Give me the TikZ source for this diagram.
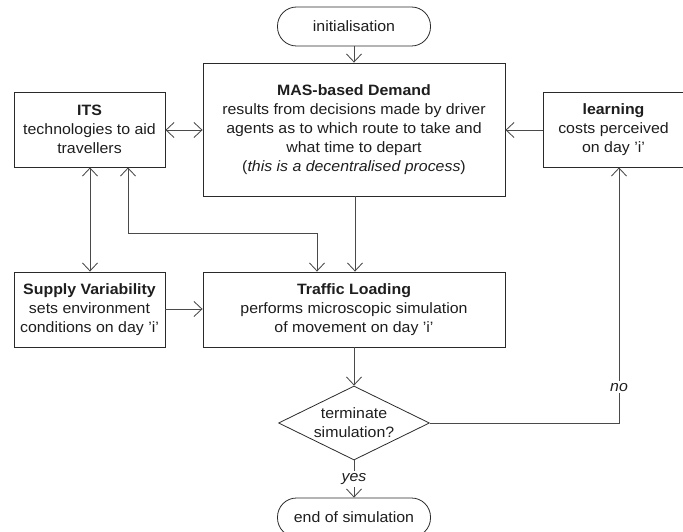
\documentclass[tikz,border=0pt]{standalone}
\usepackage{fontspec}
\setmainfont{Liberation Sans}[FakeStretch=1.06]
\usetikzlibrary{arrows.meta,shapes.geometric,positioning}
\definecolor{inkline}{HTML}{4A4A4A}
\definecolor{inkbox}{HTML}{2A2A2A}
\definecolor{inktext}{HTML}{1E1E1E}
% straight apostrophe
\newcommand\sq{\char"27\relax}
\tikzset{
  x=1pt, y=-1pt,
  every node/.style={text=inktext, font=\fontsize{15}{19}\selectfont},
  procbox/.style={draw=inkbox, line width=0.85pt, rectangle, align=center, inner sep=0pt},
  termbox/.style={draw=inkbox, line width=0.8pt, rectangle, rounded corners=19pt, align=center, inner sep=0pt,
    minimum width=153pt, minimum height=39pt},
  decbox/.style={draw=inkbox, line width=0.8pt, diamond, align=center, inner sep=0pt, aspect=2.04,
    minimum width=151pt, minimum height=74pt},
  link/.style={draw=inkline, line width=0.85pt, -{Straight Barb[length=8pt,width=15pt]}},
  bilink/.style={draw=inkline, line width=0.85pt, {Straight Barb[length=8pt,width=15pt]}-{Straight Barb[length=8pt,width=15pt]}},
  lbl/.style={fill=white, inner sep=2pt, font=\fontsize{15}{19}\selectfont\itshape}
}
\begin{document}
\begin{tikzpicture}
\useasboundingbox (0,0) rectangle (683,532);
\begin{scope}
\clip (0,0) rectangle (683,532);

% terminators
\node[termbox] (init) at (354,26.5) {initialisation};
\node[termbox] (fin) at (354,517.5) {end of simulation};

% process boxes
\node[procbox, minimum width=302pt, minimum height=133pt] (mas) at (354,129.5)
  {\textbf{MAS-based Demand}\\results from decisions made by driver\\agents as to which route to take and\\what time to depart\\(\textit{this is a decentralised process})};
\node[procbox, minimum width=151pt, minimum height=75pt] (its) at (89.5,129.5)
  {\textbf{ITS}\\technologies to aid\\travellers};
\node[procbox, minimum width=141pt, minimum height=75pt] (learn) at (613.5,129.5)
  {\textbf{learning}\\costs perceived\\on day \sq i\sq};
\node[procbox, minimum width=151pt, minimum height=75pt] (supply) at (89.5,309.5)
  {\textbf{Supply Variability}\\sets environment\\conditions on day \sq i\sq};
\node[procbox, minimum width=302pt, minimum height=75pt] (load) at (354,309.5)
  {\textbf{Traffic Loading}\\performs microscopic simulation\\of movement on day \sq i\sq};

% decision
\node[decbox] (term) at (354,423) {terminate\\simulation?};

% helper points
\coordinate (elbowA) at (317,233);
\coordinate (elbowB) at (128,233);
\coordinate (noturn) at (619,423);

% connectors
\draw[link] (init) -- (mas);
\draw[bilink] (its.east |- 0,130) -- (mas.west |- 0,130);
\draw[link] (learn.west |- 0,130) -- (mas.east |- 0,130);
\draw[bilink] (its.south -| 90,0) -- (supply.north -| 90,0);
\draw[link] (supply.east |- 0,309) -- (load.west |- 0,309);
\draw[link] (mas.south -| 355,0) -- (load.north -| 355,0);
\draw[bilink] (its.south -| elbowB) -- (elbowB) -- (elbowA) -- (load.north -| elbowA);
\draw[link] (load) -- (term);
\draw[link] (term.east) -- (noturn) -- node[lbl, pos=0.14] {no} (learn.south -| noturn);
\draw[link] (term.south) -- node[lbl, pos=0.5] {yes} (fin.north);
\end{scope}
\end{tikzpicture}
\end{document}
